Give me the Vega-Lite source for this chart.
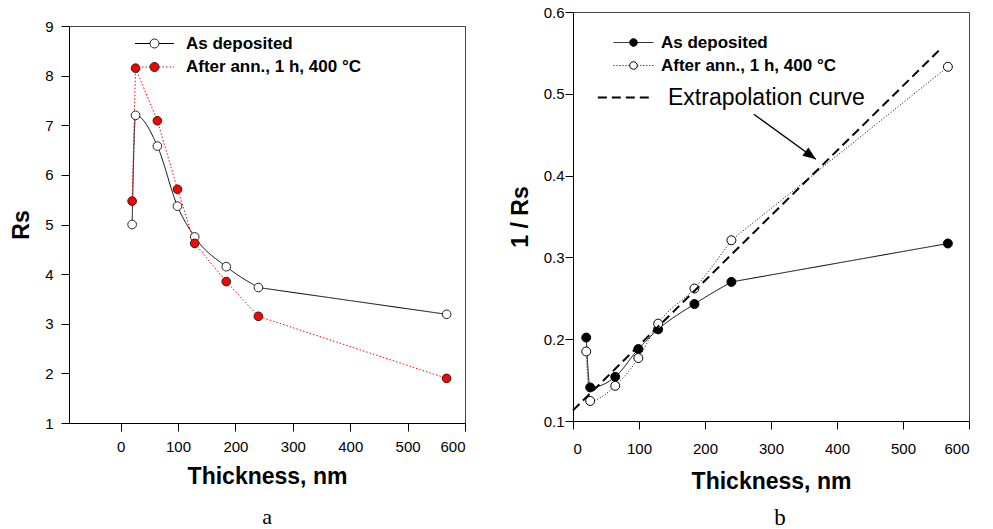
{
  "$schema": "https://vega.github.io/schema/vega-lite/v6.json",
  "padding": {"left": 10, "top": 4, "right": 5, "bottom": 0},
  "spacing": 42,
  "resolve": {"scale": {"fill": "independent", "stroke": "independent", "strokeDash": "independent"}},
  "config": {
    "view": {"stroke": null},
    "font": "Liberation Sans",
    "axis": {
      "domainColor": "black", "tickColor": "black", "labelColor": "black",
      "labelFont": "Liberation Sans", "labelFontSize": 15,
      "titleFont": "Liberation Sans", "titleFontSize": 23, "titleFontWeight": "bold", "titleColor": "black",
      "tickSize": 8, "grid": false, "labelPadding": 8, "titlePadding": 11
    },
    "legend": {"labelFont": "Liberation Sans", "labelColor": "black", "labelLimit": 0, "title": null}
  },
  "datasets": {
    "rs": [
      {"thickness": 20, "Rs": 5.0, "invRs": 0.202, "series": "As deposited"},
      {"thickness": 26, "Rs": 7.2, "invRs": 0.141, "series": "As deposited"},
      {"thickness": 64, "Rs": 6.58, "invRs": 0.154, "series": "As deposited"},
      {"thickness": 99, "Rs": 5.37, "invRs": 0.188, "series": "As deposited"},
      {"thickness": 129, "Rs": 4.75, "invRs": 0.212, "series": "As deposited"},
      {"thickness": 184, "Rs": 4.15, "invRs": 0.243, "series": "As deposited"},
      {"thickness": 240, "Rs": 3.73, "invRs": 0.270, "series": "As deposited"},
      {"thickness": 568, "Rs": 3.19, "invRs": 0.317, "series": "As deposited"},
      {"thickness": 20, "Rs": 5.47, "invRs": 0.185, "series": "After ann., 1 h, 400 °C"},
      {"thickness": 26, "Rs": 8.15, "invRs": 0.1245, "series": "After ann., 1 h, 400 °C"},
      {"thickness": 64, "Rs": 7.09, "invRs": 0.143, "series": "After ann., 1 h, 400 °C"},
      {"thickness": 99, "Rs": 5.71, "invRs": 0.177, "series": "After ann., 1 h, 400 °C"},
      {"thickness": 129, "Rs": 4.62, "invRs": 0.219, "series": "After ann., 1 h, 400 °C"},
      {"thickness": 184, "Rs": 3.85, "invRs": 0.262, "series": "After ann., 1 h, 400 °C"},
      {"thickness": 240, "Rs": 3.15, "invRs": 0.321, "series": "After ann., 1 h, 400 °C"},
      {"thickness": 568, "Rs": 1.90, "invRs": 0.533, "series": "After ann., 1 h, 400 °C"}
    ],
    "extra": [
      {"thickness": 0, "invRs": 0.113, "curve": "Extrapolation curve"},
      {"thickness": 557, "invRs": 0.555, "curve": "Extrapolation curve"}
    ],
    "arrow": [
      {"x1": 274, "y1": 0.475, "x2": 368, "y2": 0.42}
    ]
  },
  "hconcat": [
    {
      "spacing": 0,
      "resolve": {"scale": {"fill": "independent", "stroke": "independent", "strokeDash": "independent"}},
      "vconcat": [
        {
          "width": 396, "height": 5,
          "data": {"values": [{}]},
          "mark": {"type": "point", "opacity": 0},
          "encoding": {}
        },
        {
          "width": 396, "height": 397,
          "view": {"stroke": "#444", "strokeWidth": 1},
          "title": {"text": "a", "orient": "bottom", "font": "Liberation Serif", "fontSize": 22, "fontWeight": "normal", "color": "black", "anchor": "middle", "offset": 19},
          "data": {"name": "rs"},
          "layer": [
            {
              "transform": [{"filter": "datum.series === 'As deposited' && datum.thickness <= 240"}],
              "mark": {"type": "line", "interpolate": "monotone", "strokeWidth": 1},
              "encoding": {
                "x": {"field": "thickness", "type": "quantitative", "scale": {"domain": [-90, 600], "nice": false, "zero": false},
                      "axis": {"values": [0, 100, 200, 300, 400, 500, 600], "title": "Thickness, nm"}},
                "y": {"field": "Rs", "type": "quantitative", "scale": {"domain": [1, 9], "nice": false, "zero": false},
                      "axis": {"values": [1, 2, 3, 4, 5, 6, 7, 8, 9], "title": "Rs"}},
                "stroke": {"field": "series", "type": "nominal", "sort": "descending",
                           "scale": {"range": ["black", "red"]},
                           "legend": {"orient": "none", "legendX": 75, "legendY": 7, "symbolType": "M-1.95,0H-0.45M0.45,0H1.95", "symbolSize": 400, "symbolStrokeWidth": 1, "labelFontSize": 17, "labelFontWeight": "bold", "labelOffset": 21, "rowPadding": 4.5}},
                "strokeDash": {"field": "series", "type": "nominal", "sort": "descending",
                               "scale": {"range": [[1, 0], [1.5, 2]]},
                               "legend": {"orient": "none", "legendX": 75, "legendY": 7, "symbolType": "M-1.95,0H-0.45M0.45,0H1.95", "symbolSize": 400, "symbolStrokeWidth": 1, "labelFontSize": 17, "labelFontWeight": "bold", "labelOffset": 21, "rowPadding": 4.5}}
              }
            },
            {
              "transform": [{"filter": "datum.series !== 'As deposited' || datum.thickness >= 240"}],
              "mark": {"type": "line", "interpolate": "linear", "strokeWidth": 1},
              "encoding": {
                "x": {"field": "thickness", "type": "quantitative", "scale": {"domain": [-90, 600], "nice": false, "zero": false}},
                "y": {"field": "Rs", "type": "quantitative", "scale": {"domain": [1, 9], "nice": false, "zero": false}},
                "stroke": {"field": "series", "type": "nominal", "sort": "descending"},
                "strokeDash": {"field": "series", "type": "nominal", "sort": "descending"}
              }
            },
            {
              "mark": {"type": "point", "size": 75, "stroke": "#222", "strokeWidth": 1, "opacity": 1},
              "encoding": {
                "x": {"field": "thickness", "type": "quantitative", "scale": {"domain": [-90, 600], "nice": false, "zero": false}},
                "y": {"field": "Rs", "type": "quantitative", "scale": {"domain": [1, 9], "nice": false, "zero": false}},
                "fill": {"field": "series", "type": "nominal",
                         "scale": {"domain": ["As deposited", "After ann., 1 h, 400 °C"], "range": ["white", "red"]},
                         "legend": {"orient": "none", "legendX": 75, "legendY": 7, "symbolType": "M-0.45,0A0.45,0.45,0,1,1,0.45,0A0.45,0.45,0,1,1,-0.45,0Z", "symbolSize": 400, "symbolStrokeWidth": 1, "labelFontSize": 17, "labelFontWeight": "bold", "labelOffset": 21, "rowPadding": 4.5, "labelOpacity": 0}}
              }
            }
          ]
        }
      ]
    },
    {
      "width": 396, "height": 409,
      "view": {"stroke": "#444", "strokeWidth": 1},
      "title": {"text": "b", "orient": "bottom", "font": "Liberation Serif", "fontSize": 23, "fontWeight": "normal", "color": "black", "anchor": "middle", "offset": 14, "dx": 9},
      "resolve": {"scale": {"strokeDash": "independent"}},
      "layer": [
        {
          "data": {"name": "rs"},
          "layer": [
            {
              "transform": [{"filter": "datum.thickness <= 240"}],
              "mark": {"type": "line", "interpolate": "monotone", "strokeWidth": 1, "color": "black"},
              "encoding": {
                "x": {"field": "thickness", "type": "quantitative", "scale": {"domain": [0, 600], "nice": false, "zero": false},
                      "axis": {"values": [0, 100, 200, 300, 400, 500, 600], "title": "Thickness, nm", "labelPadding": 12, "titlePadding": 14}},
                "y": {"field": "invRs", "type": "quantitative", "scale": {"domain": [0.1, 0.6], "nice": false, "zero": false},
                      "axis": {"values": [0.1, 0.2, 0.3, 0.4, 0.5, 0.6], "format": ".1f", "title": "1 / Rs", "labelPadding": 1, "titlePadding": 11}},
                "detail": {"field": "series", "type": "nominal"},
                "strokeDash": {"field": "series", "type": "nominal", "sort": "descending",
                               "scale": {"range": [[1, 0], [1, 2]]},
                               "legend": {"orient": "none", "legendX": 50, "legendY": 20, "symbolType": "M-2,0H-0.38M0.38,0H2", "symbolSize": 400, "symbolStrokeWidth": 1, "labelFontSize": 17, "labelFontWeight": "bold", "labelOffset": 17, "rowPadding": 4}}
              }
            },
            {
              "transform": [{"filter": "datum.thickness >= 240"}],
              "mark": {"type": "line", "interpolate": "linear", "strokeWidth": 1, "color": "black"},
              "encoding": {
                "x": {"field": "thickness", "type": "quantitative", "scale": {"domain": [0, 600], "nice": false, "zero": false}},
                "y": {"field": "invRs", "type": "quantitative", "scale": {"domain": [0.1, 0.6], "nice": false, "zero": false}},
                "detail": {"field": "series", "type": "nominal"},
                "strokeDash": {"field": "series", "type": "nominal", "sort": "descending"}
              }
            },
            {
              "mark": {"type": "point", "size": 80, "stroke": "black", "strokeWidth": 1, "opacity": 1},
              "encoding": {
                "x": {"field": "thickness", "type": "quantitative", "scale": {"domain": [0, 600], "nice": false, "zero": false}},
                "y": {"field": "invRs", "type": "quantitative", "scale": {"domain": [0.1, 0.6], "nice": false, "zero": false}},
                "fill": {"field": "series", "type": "nominal",
                         "scale": {"domain": ["As deposited", "After ann., 1 h, 400 °C"], "range": ["black", "white"]},
                         "legend": {"orient": "none", "legendX": 50, "legendY": 20, "symbolType": "M-0.38,0A0.38,0.38,0,1,1,0.38,0A0.38,0.38,0,1,1,-0.38,0Z", "symbolSize": 400, "symbolStrokeWidth": 1, "labelFontSize": 17, "labelFontWeight": "bold", "labelOffset": 17, "rowPadding": 4, "labelOpacity": 0}}
              }
            }
          ]
        },
        {
          "layer": [
            {
              "data": {"name": "extra"},
              "mark": {"type": "line", "strokeWidth": 2, "color": "black"},
              "encoding": {
                "x": {"field": "thickness", "type": "quantitative", "scale": {"domain": [0, 600], "nice": false, "zero": false}},
                "y": {"field": "invRs", "type": "quantitative", "scale": {"domain": [0.1, 0.6], "nice": false, "zero": false}},
                "strokeDash": {"field": "curve", "type": "nominal",
                               "scale": {"range": [[9, 5]]},
                               "legend": {"orient": "none", "legendX": 41, "legendY": 74, "symbolType": "M-2.77,0H2.77", "symbolSize": 400, "symbolStrokeWidth": 2, "labelFontSize": 23, "labelFontWeight": "normal", "labelOffset": 31}}
              }
            },
            {
              "data": {"name": "arrow"},
              "mark": {"type": "rule", "strokeWidth": 1.3, "color": "black"},
              "encoding": {
                "x": {"field": "x1", "type": "quantitative", "scale": {"domain": [0, 600], "nice": false, "zero": false}, "title": "Thickness, nm"},
                "y": {"field": "y1", "type": "quantitative", "scale": {"domain": [0.1, 0.6], "nice": false, "zero": false}, "title": "1 / Rs"},
                "x2": {"field": "x2"},
                "y2": {"field": "y2"}
              }
            },
            {
              "data": {"name": "arrow"},
              "mark": {"type": "point", "shape": "M0,0L-1,-0.4L-1,0.4Z", "angle": 36, "size": 676, "filled": true, "color": "black", "opacity": 1},
              "encoding": {
                "x": {"field": "x2", "type": "quantitative", "scale": {"domain": [0, 600], "nice": false, "zero": false}, "title": "Thickness, nm"},
                "y": {"field": "y2", "type": "quantitative", "scale": {"domain": [0.1, 0.6], "nice": false, "zero": false}, "title": "1 / Rs"}
              }
            }
          ]
        }
      ]
    }
  ]
}
